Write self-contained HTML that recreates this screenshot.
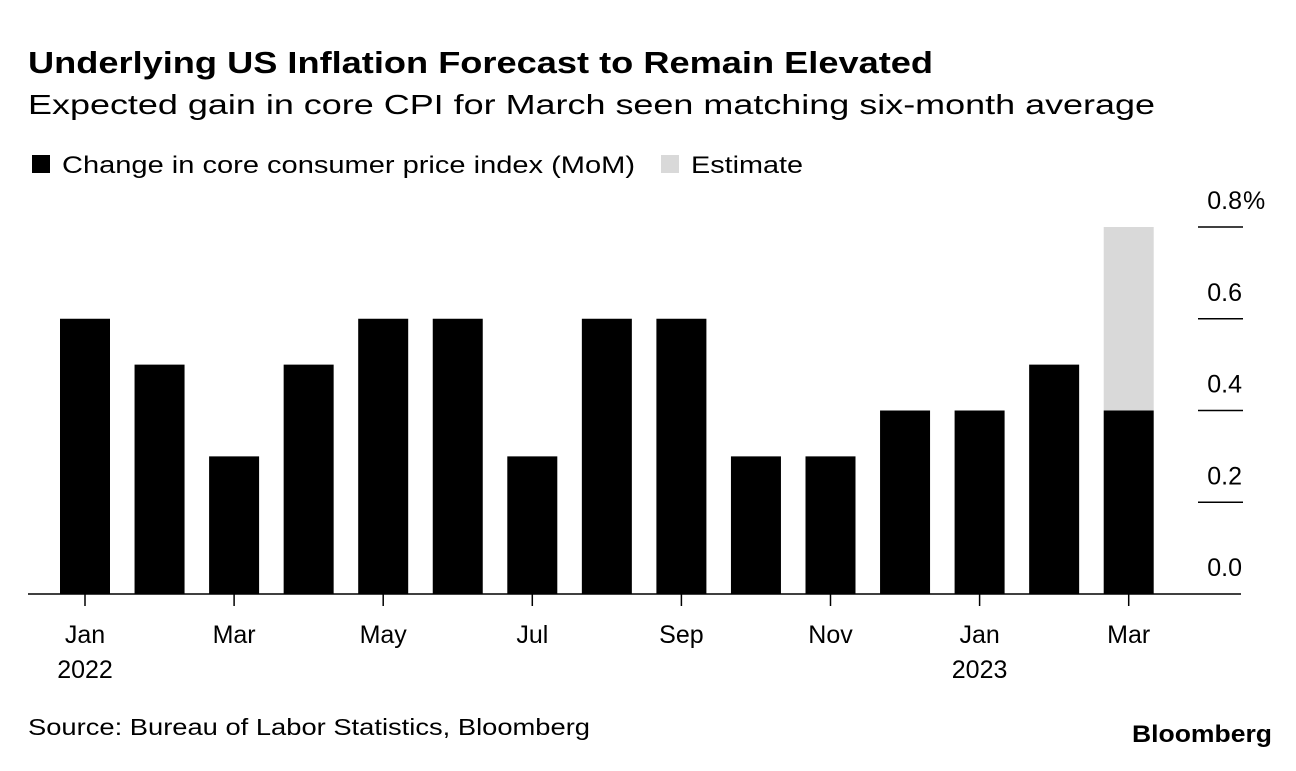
<!DOCTYPE html>
<html><head><meta charset="utf-8"><style>
body{margin:0;background:#fff;font-family:"Liberation Sans",sans-serif;}
svg text{font-family:"Liberation Sans",sans-serif;}
</style></head><body>
<svg id="c" width="1296" height="766">
<text x="28" y="73" font-size="31" font-weight="bold" fill="#000" textLength="905" lengthAdjust="spacingAndGlyphs">Underlying US Inflation Forecast to Remain Elevated</text>
<text x="28" y="114" font-size="28" fill="#000" textLength="1127" lengthAdjust="spacingAndGlyphs">Expected gain in core CPI for March seen matching six-month average</text>
<g>
<rect x="32" y="155" width="18" height="18" fill="#000"/>
<text x="62" y="173" font-size="24" textLength="573" lengthAdjust="spacingAndGlyphs">Change in core consumer price index (MoM)</text>
<rect x="661" y="155" width="18" height="18" fill="#d9d9d9"/>
<text x="691" y="173" font-size="24" textLength="112" lengthAdjust="spacingAndGlyphs">Estimate</text>
</g>
<g id="bars"></g>
<g id="axes"></g>
<text x="28" y="735" font-size="23" textLength="562" lengthAdjust="spacingAndGlyphs">Source: Bureau of Labor Statistics, Bloomberg</text>
<text x="1132" y="742" font-size="24" font-weight="bold" textLength="140" lengthAdjust="spacingAndGlyphs">Bloomberg</text>
</svg>
<script>
const months=["Jan","Feb","Mar","Apr","May","Jun","Jul","Aug","Sep","Oct","Nov","Dec","Jan","Feb","Mar"];
const values=[0.6,0.5,0.3,0.5,0.6,0.6,0.3,0.6,0.6,0.3,0.3,0.4,0.4,0.5,0.4];
const estimates=[null,null,null,null,null,null,null,null,null,null,null,null,null,null,0.8];
const yTicks=[0,0.2,0.4,0.6,0.8];
const yTickLabels=["0.0","0.2","0.4","0.6","0.8"];
const xLabelIdx=[0,2,4,6,8,10,12,14];
const yearLabels={0:"2022",12:"2023"};
const NS="http://www.w3.org/2000/svg";
const y0=594, pxPer=(594-227)/0.8;
const yS=v=>y0-v*pxPer;
const xS=i=>84+i*74.55;
const bw=50;
const bars=document.getElementById('bars'), axes=document.getElementById('axes');
function mk(tag,attrs,parent){const e=document.createElementNS(NS,tag);for(const k in attrs)e.setAttribute(k,attrs[k]);parent.appendChild(e);return e;}
values.forEach((v,i)=>{
  if(estimates[i]!=null){
    const g=mk('rect',{x:xS(i)-bw/2+1,y:yS(estimates[i]),width:bw,height:yS(v)-yS(estimates[i]),fill:'#d9d9d9'},bars);
    
    
  }
  const r=mk('rect',{x:xS(i)-bw/2+1,y:yS(v),width:bw,height:y0-yS(v),fill:'#000'},bars);
  
  
});
yTicks.forEach((t,i)=>{
  if(t>0){
    const l=mk('line',{x1:1198,x2:1243,y1:yS(t),y2:yS(t),stroke:'#000','stroke-width':1.5},axes);
    
    
  }
  const tx=mk('text',{x:1242,y:yS(t)-18,'font-size':25,'text-anchor':'end'},axes);
  tx.textContent=yTickLabels[i];
  
  
  if(i===yTicks.length-1){
    const pc=mk('text',{x:1243,y:yS(t)-18,'font-size':25},axes);
    pc.textContent='%';
    
    
  }
});
const ax=mk('line',{x1:28,x2:1241,y1:y0,y2:y0,stroke:'#000','stroke-width':1.5},axes);


xLabelIdx.forEach(i=>{
  const tk=mk('line',{x1:xS(i)+1,x2:xS(i)+1,y1:y0,y2:y0+12,stroke:'#000','stroke-width':1.5},axes);
  
  
  const tx=mk('text',{x:xS(i)+1,y:643,'font-size':25,'text-anchor':'middle'},axes);
  tx.textContent=months[i];
  
  
  if(yearLabels[i]){
    const yt=mk('text',{x:xS(i)+1,y:678,'font-size':25,'text-anchor':'middle'},axes);
    yt.textContent=yearLabels[i];
    
    
  }
});
</script>
</body></html>
